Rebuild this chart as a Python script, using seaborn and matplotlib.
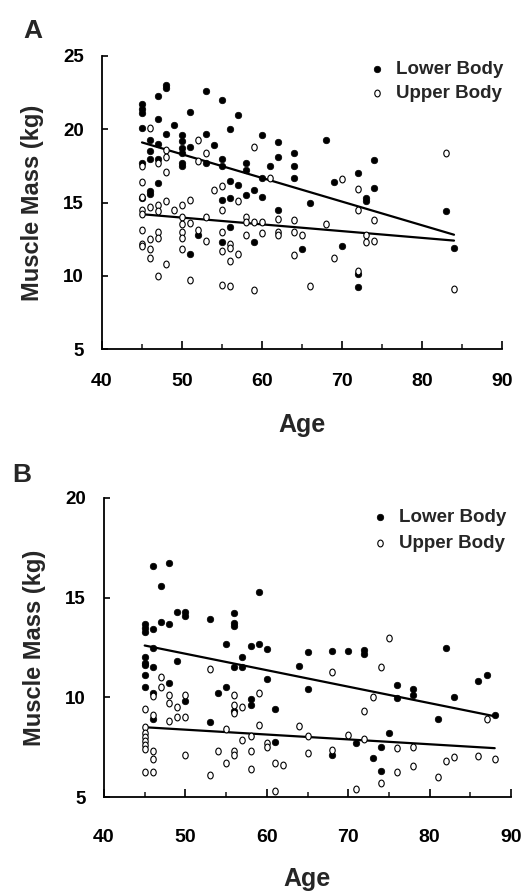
import matplotlib
matplotlib.use("Agg")
import matplotlib.pyplot as plt
import matplotlib.ticker as mticker
from matplotlib.path import Path
from matplotlib.transforms import Affine2D
import seaborn as sns
import pandas as pd

# ---------------- data (age, muscle mass kg) ----------------
a_lower = [(45, 21.7), (45, 21.4), (45, 21.1), (45, 20.1), (45, 17.7), (45, 15.3),
           (46, 19.3), (46, 18.5), (46, 18.0), (46, 15.8), (46, 15.6),
           (47, 22.3), (47, 20.7), (47, 19.0), (47, 18.0), (47, 16.3),
           (48, 23.0), (48, 22.8), (48, 19.7), (49, 20.3),
           (50, 19.6), (50, 19.2), (50, 18.7), (50, 18.4), (50, 17.7), (50, 17.5),
           (51, 21.2), (51, 18.8), (51, 11.5), (52, 12.8),
           (53, 22.6), (53, 19.7), (53, 17.7), (54, 18.9),
           (55, 22.0), (55, 18.0), (55, 17.5), (55, 15.2), (55, 12.3),
           (56, 20.0), (56, 16.5), (56, 15.3), (56, 13.3),
           (57, 21.0), (57, 16.2), (58, 17.7), (58, 17.2), (58, 15.5),
           (59, 15.85), (59, 12.3), (60, 19.6), (60, 16.7), (60, 15.4),
           (61, 17.5), (62, 19.1), (62, 18.1), (62, 14.5),
           (64, 18.4), (64, 17.5), (64, 16.7), (65, 11.8), (66, 15.0),
           (68, 19.3), (69, 16.4), (70, 12.0), (72, 17.0), (72, 10.1), (72, 9.2),
           (73, 15.3), (73, 15.1), (74, 17.9), (74, 16.0), (83, 14.4), (84, 11.9)]

a_upper = [(45, 17.5), (45, 16.4), (45, 15.4), (45, 14.5), (45, 14.2), (45, 13.1), (45, 12.2), (45, 12.0),
           (46, 20.1), (46, 14.7), (46, 12.5), (46, 11.8), (46, 11.2),
           (47, 17.7), (47, 14.8), (47, 14.4), (47, 13.0), (47, 12.6), (47, 10.0),
           (48, 18.6), (48, 18.1), (48, 17.1), (48, 15.1), (48, 10.8), (49, 14.5),
           (50, 14.8), (50, 14.0), (50, 13.5), (50, 13.0), (50, 12.6), (50, 11.8),
           (51, 15.2), (51, 13.6), (51, 9.7), (52, 19.3), (52, 17.8), (52, 13.1),
           (53, 18.4), (53, 14.0), (53, 12.4), (54, 15.85),
           (55, 16.1), (55, 14.5), (55, 13.0), (55, 11.7), (55, 9.4),
           (56, 12.2), (56, 11.9), (56, 11.0), (56, 9.3), (57, 15.1), (57, 11.5),
           (58, 14.0), (58, 13.7), (58, 12.8), (59, 18.8), (59, 13.7), (59, 9.0),
           (60, 13.7), (60, 12.9), (61, 16.7), (62, 13.9), (62, 13.0), (62, 12.8),
           (64, 13.8), (64, 13.0), (64, 11.4), (65, 12.8), (66, 9.3), (68, 13.5),
           (69, 11.2), (70, 16.6), (72, 15.9), (72, 14.5), (72, 10.3),
           (73, 12.8), (73, 12.3), (74, 13.8), (74, 12.4), (83, 18.4), (84, 9.1)]

b_lower = [(45, 13.7), (45, 13.5), (45, 13.3), (45, 12.0), (45, 11.7), (45, 11.6), (45, 11.1), (45, 10.5),
           (46, 16.6), (46, 13.45), (46, 12.5), (46, 11.5), (46, 10.2), (46, 8.9),
           (47, 15.6), (47, 13.8), (48, 16.75), (48, 13.7), (48, 10.7),
           (49, 14.3), (49, 11.8), (50, 14.3), (50, 14.1), (50, 9.8),
           (53, 13.95), (53, 8.75), (54, 10.2), (55, 12.7), (55, 10.5),
           (56, 14.25), (56, 13.75), (56, 13.6), (56, 11.5), (56, 9.3),
           (57, 12.0), (57, 11.5), (58, 12.6), (58, 9.9), (58, 9.6),
           (59, 15.3), (59, 12.7), (60, 12.4), (60, 10.9), (61, 9.4), (61, 7.75),
           (64, 11.55), (65, 12.25), (65, 10.4), (68, 12.3), (68, 7.1), (70, 12.3),
           (71, 7.7), (72, 12.35), (72, 12.15), (73, 6.95), (74, 7.5), (74, 6.3),
           (75, 8.2), (76, 10.6), (76, 9.95), (78, 10.4), (78, 10.1), (81, 8.9),
           (82, 12.45), (83, 10.0), (86, 10.8), (87, 11.1), (88, 9.1)]

b_upper = [(45, 9.4), (45, 8.5), (45, 8.2), (45, 8.0), (45, 7.8), (45, 7.6), (45, 7.4), (45, 6.25),
           (46, 10.05), (46, 9.1), (46, 7.3), (46, 6.9), (46, 6.25),
           (47, 11.0), (47, 10.5), (48, 10.1), (48, 9.7), (48, 8.8),
           (49, 9.5), (49, 9.0), (50, 10.1), (50, 9.0), (50, 7.1),
           (53, 11.4), (53, 6.1), (54, 7.3), (55, 8.4), (55, 6.7),
           (56, 10.1), (56, 9.6), (56, 9.2), (56, 7.3), (56, 7.1),
           (57, 9.5), (57, 7.85), (58, 8.05), (58, 7.3), (58, 6.4),
           (59, 10.2), (59, 8.6), (60, 7.7), (60, 7.5), (61, 6.7), (61, 5.3),
           (62, 6.6), (64, 8.55), (65, 8.05), (65, 7.2), (68, 11.25), (68, 7.35),
           (70, 8.1), (71, 5.4), (72, 9.3), (72, 7.9), (73, 10.0), (74, 11.5), (74, 5.7),
           (75, 13.0), (76, 7.45), (76, 6.25), (78, 7.5), (78, 6.55), (81, 6.0),
           (82, 6.8), (83, 7.0), (86, 7.05), (87, 8.9), (88, 6.9)]

# regression line end points
a_lower_fit = [(45, 19.1), (84, 12.8)]
a_upper_fit = [(45, 14.2), (84, 12.4)]
b_lower_fit = [(45, 12.6), (88, 9.05)]
b_upper_fit = [(45, 8.5), (88, 7.45)]

series_names = ["Lower Body", "Upper Body"]
x_ticks = [40, 50, 60, 70, 80, 90]
a_y_ticks = [5, 10, 15, 20, 25]
b_y_ticks = [5, 10, 15, 20]

# ---------------- style ----------------
sns.set_theme(style="ticks")
plt.rcParams["font.family"] = ["Liberation Sans", "DejaVu Sans"]
plt.rcParams["font.weight"] = "bold"

# slightly tall ellipse for the hollow markers
ellipse = Path.unit_circle().transformed(Affine2D().scale(0.8, 1.0))

W, H = 524, 893
fig = plt.figure(figsize=(W / 100, H / 100), dpi=100)

def frac(l, r, t, b):
    return [l / W, 1 - b / H, (r - l) / W, (b - t) / H]

ax_a = fig.add_axes(frac(102, 502, 56, 349))
ax_b = fig.add_axes(frac(104, 511, 498, 797))


def draw(ax, lower, upper, lfit, ufit, yticks, ylim, xpad, leg_anchor, leg_space):
    dl = pd.DataFrame(lower, columns=["Age", "Mass"])
    du = pd.DataFrame(upper, columns=["Age", "Mass"])
    fl = pd.DataFrame(lfit, columns=["Age", "Mass"])
    fu = pd.DataFrame(ufit, columns=["Age", "Mass"])
    sns.lineplot(data=fl, x="Age", y="Mass", ax=ax, color="black", lw=1.6)
    sns.lineplot(data=fu, x="Age", y="Mass", ax=ax, color="black", lw=1.6)
    sns.scatterplot(data=dl, x="Age", y="Mass", ax=ax, s=22, color="black",
                    edgecolor="black", linewidth=0.5, label=series_names[0], zorder=3)
    sns.scatterplot(data=du, x="Age", y="Mass", ax=ax, s=24, marker=ellipse,
                    facecolor="white", edgecolor="black", linewidth=0.8,
                    label=series_names[1], zorder=3)
    ax.set_xlim(40, 90)
    ax.set_ylim(*ylim)
    ax.set_xticks(x_ticks)
    ax.xaxis.set_minor_locator(mticker.MultipleLocator(5))
    ax.set_yticks(yticks)
    for s in ["top", "right"]:
        ax.spines[s].set_visible(False)
    for s in ["left", "bottom"]:
        ax.spines[s].set_linewidth(1.3)
        ax.spines[s].set_color("black")
    ax.tick_params(axis="x", which="major", direction="in", length=5.5, width=1.2,
                   pad=xpad, labelsize=14, colors="black")
    ax.tick_params(axis="x", which="minor", direction="in", length=3.5, width=1.2)
    ax.tick_params(axis="y", which="major", direction="in", length=4.5, width=1.2,
                   pad=13, labelsize=13.5, colors="black")
    for lab in ax.get_xticklabels() + ax.get_yticklabels():
        lab.set_fontweight("bold")
    ax.set_ylabel("Muscle Mass (kg)", fontsize=17, fontweight="bold", labelpad=14)
    ax.set_xlabel("Age", fontsize=18, fontweight="bold")
    ax.legend(loc="upper left", bbox_to_anchor=leg_anchor, frameon=False,
              prop={"size": 13.5, "weight": "bold"}, handlelength=1.0,
              handletextpad=0.5, borderpad=0, borderaxespad=0,
              labelspacing=leg_space, markerscale=1.0)


draw(ax_a, a_lower, a_upper, a_lower_fit, a_upper_fit, a_y_ticks, (5, 25),
     17, (0.664, 0.985), 0.4)
draw(ax_b, b_lower, b_upper, b_lower_fit, b_upper_fit, b_y_ticks, (5, 20),
     23, (0.655, 0.965), 0.5)

ax_a.xaxis.labelpad = 17
ax_b.xaxis.labelpad = 15

fig.text(23 / W, 1 - 38 / H, "A", fontsize=19, fontweight="bold", ha="left", va="baseline")
fig.text(12 / W, 1 - 482 / H, "B", fontsize=19, fontweight="bold", ha="left", va="baseline")

fig.savefig("out.png", dpi=100, facecolor="white")
